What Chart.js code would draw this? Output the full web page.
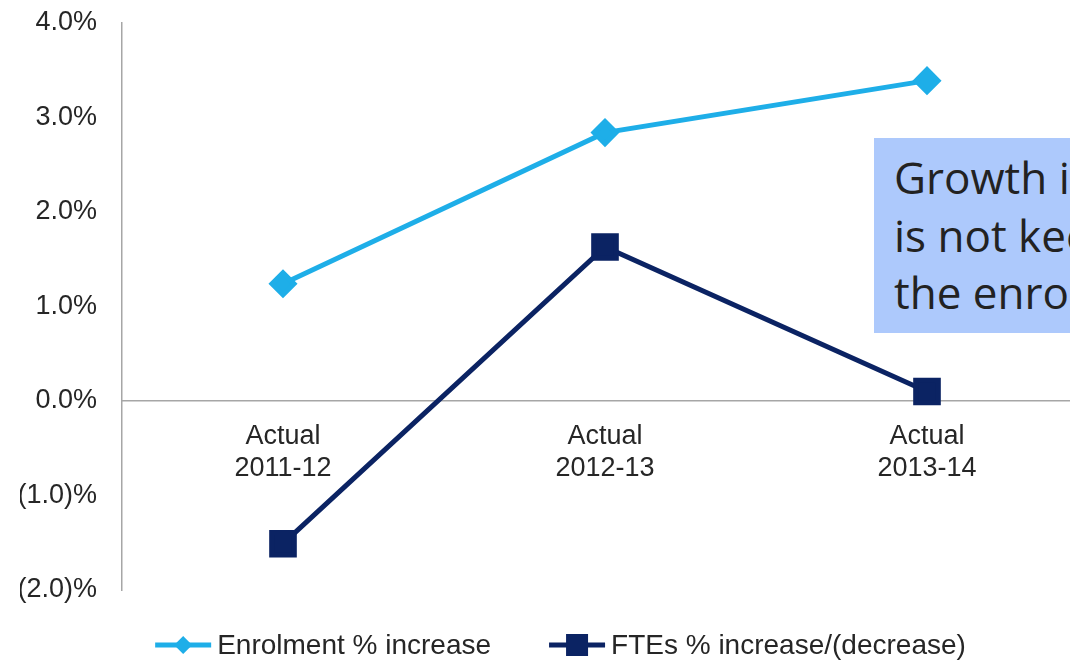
<!DOCTYPE html>
<html>
<head>
<meta charset="utf-8">
<title>Enrolment vs FTE growth</title>
<script src="https://cdn.jsdelivr.net/npm/chart.js@4.4.1/dist/chart.umd.min.js"></script>
<style>
  html, body { margin: 0; padding: 0; background: #fff; overflow: hidden; }
  #wrap { position: relative; width: 1109px; height: 660px; }
  #note {
    position: absolute; left: 874px; top: 138px; width: 320px; height: 195px;
    background: #adc9fc; color: #222; box-sizing: border-box;
    padding: 11px 0 0 20px; white-space: nowrap;
    font-family: "Open Sans", Lato, sans-serif; font-size: 44px; line-height: 57.5px;
  }
</style>
</head>
<body>
<div id="wrap">
  <canvas id="growthChart" width="1109" height="660"></canvas>
  <div id="note">Growth in FTEs<br>is not keeping pace with<br>the enrolment growth</div>
</div>
<script>
const categories = [['Actual', '2011-12'], ['Actual', '2012-13'], ['Actual', '2013-14']];
const seriesNames = ['Enrolment % increase', 'FTEs % increase/(decrease)'];
const enrolmentGrowth = [1.24, 2.84, 3.39];
const fteGrowth = [-1.51, 1.63, 0.10];
const yRange = [-2, 4];

const colors = {
  enrolment: '#1eaee8',
  fte: '#0b2363',
  text: '#262626',
  axis: '#a6a6a6'
};

const FONT = '"Liberation Sans", Arial, sans-serif';

// percent label, negatives shown accountant style: (1.0)%
const fmtPct = v => v < 0 ? '(' + Math.abs(v).toFixed(1) + ')%' : v.toFixed(1) + '%';

// line + marker swatch for the legend
function drawSwatch(ctx, x, y, w, color, shape) {
  ctx.strokeStyle = color;
  ctx.lineWidth = 5;
  ctx.beginPath(); ctx.moveTo(x, y); ctx.lineTo(x + w, y); ctx.stroke();
  ctx.fillStyle = color;
  const cx = x + w / 2;
  ctx.beginPath();
  if (shape === 'rectRot') {
    ctx.moveTo(cx - 9, y); ctx.lineTo(cx, y - 9); ctx.lineTo(cx + 9, y); ctx.lineTo(cx, y + 9);
  } else {
    ctx.rect(cx - 11, y - 11, 22, 22);
  }
  ctx.closePath();
  ctx.fill();
}

// legend row under the plot: swatch, label, wide gap, swatch, label
const lineLegend = {
  id: 'lineLegend',
  afterDraw(chart) {
    const { ctx } = chart;
    const sw = 56, gapText = 6, gapItem = 58;
    ctx.save();
    ctx.font = '28px ' + FONT;
    ctx.textBaseline = 'middle';
    const items = chart.data.datasets.map(ds => ({
      ds, w: sw + gapText + ctx.measureText(ds.label).width
    }));
    const total = items.reduce((s, it) => s + it.w, 0) + gapItem * (items.length - 1);
    let x = chart.width / 2 + 6 - total / 2;
    const y = 645;
    items.forEach(({ ds, w }) => {
      drawSwatch(ctx, x, y, sw, ds.borderColor, ds.pointStyle);
      ctx.fillStyle = colors.text;
      ctx.fillText(ds.label, x + sw + gapText, y + 1);
      x += w + gapItem;
    });
    ctx.restore();
  }
};

// keep the plot box where the layout padding puts it
const noEdgePadding = s => {
  s.paddingTop = 0; s.paddingBottom = 0;
  s.paddingLeft = 0; s.paddingRight = 0;
};

new Chart(document.getElementById('growthChart'), {
  type: 'line',
  data: {
    labels: categories,
    datasets: [
      {
        label: seriesNames[0],
        data: enrolmentGrowth,
        borderColor: colors.enrolment,
        backgroundColor: colors.enrolment,
        borderWidth: 5,
        pointStyle: 'rectRot',
        pointRadius: 11,
        pointHoverRadius: 11,
        tension: 0
      },
      {
        label: seriesNames[1],
        data: fteGrowth,
        borderColor: colors.fte,
        backgroundColor: colors.fte,
        borderWidth: 5,
        pointStyle: 'rect',
        pointRadius: 16,
        pointHoverRadius: 16,
        tension: 0
      }
    ]
  },
  plugins: [lineLegend],
  options: {
    responsive: false,
    animation: false,
    layout: { padding: { left: 20, right: 3, top: 23, bottom: 70 } },
    scales: {
      x: {
        position: { y: 0 },
        offset: true,
        grid: { display: false, drawTicks: false },
        border: { display: true, color: colors.axis, width: 1.5 },
        ticks: { color: colors.text, padding: 19, font: { family: FONT, size: 27 } },
        afterFit: noEdgePadding
      },
      y: {
        min: yRange[0],
        max: yRange[1],
        grid: { display: false, drawTicks: false },
        border: { display: true, color: colors.axis, width: 1.5 },
        ticks: {
          stepSize: 1,
          padding: 25,
          color: colors.text,
          font: { family: FONT, size: 27 },
          callback: v => fmtPct(v)
        },
        afterFit: s => { noEdgePadding(s); s.width = 102; }
      }
    },
    plugins: {
      tooltip: { enabled: false },
      legend: { display: false }
    }
  }
});
</script>
</body>
</html>
